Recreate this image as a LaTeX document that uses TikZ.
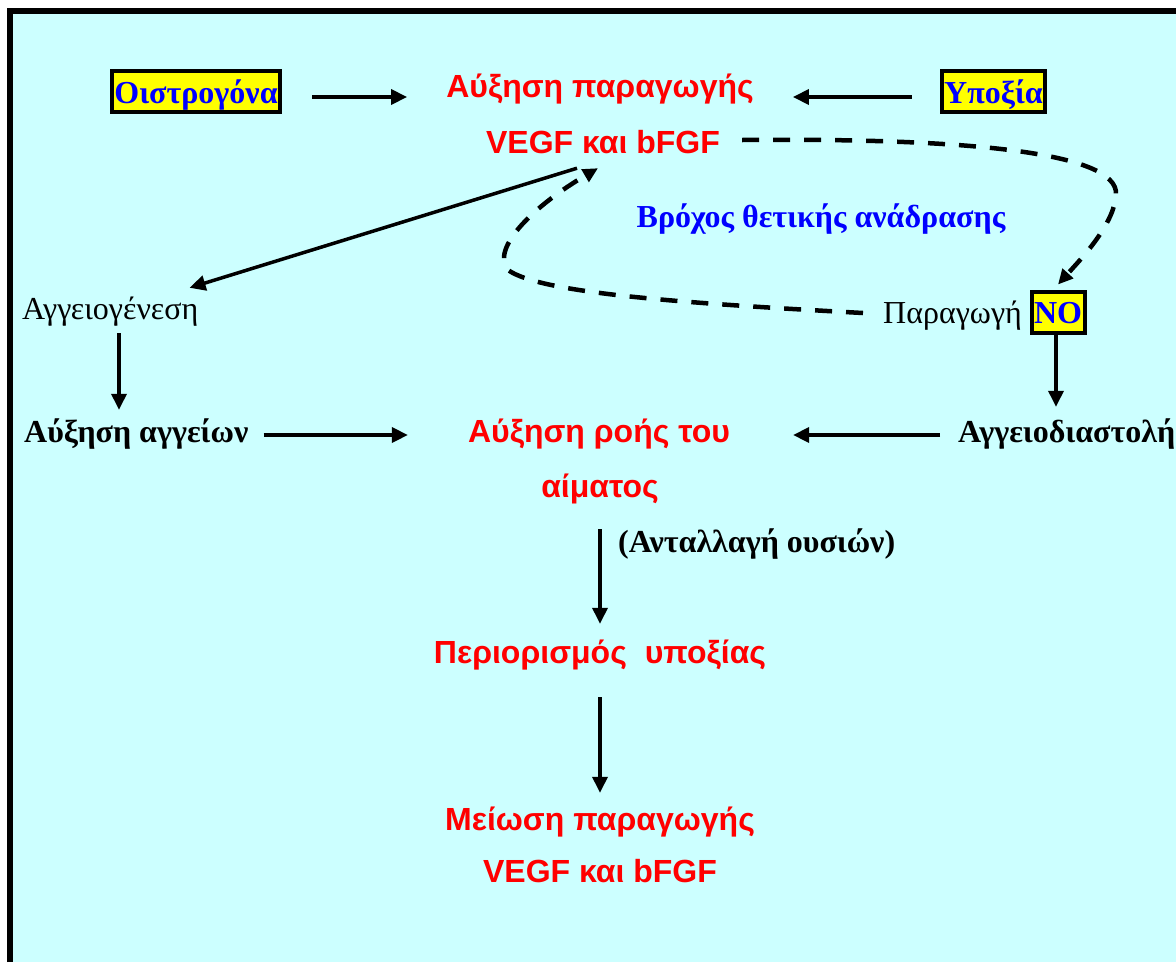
\documentclass[tikz,border=0pt]{standalone}
\usepackage{fontspec}
\setmainfont{Liberation Serif}
\newfontfamily\sansf{Liberation Sans}
\usetikzlibrary{arrows.meta,calc}
\definecolor{bgcyan}{HTML}{CCFFFF}
\definecolor{boxyellow}{HTML}{FFFF00}
\begin{document}
\begin{tikzpicture}[x=1pt,y=-1pt,
  txt/.style={inner sep=0pt, text height=24pt, text depth=7pt, anchor=base},
  redtxt/.style={txt, text=red, font=\sansf\bfseries\fontsize{32}{38}\selectfont},
  boldtxt/.style={txt, text=black, font=\bfseries\fontsize{32}{38}\selectfont},
  plaintxt/.style={txt, text=black, font=\fontsize{32}{38}\selectfont},
  bluetxt/.style={txt, text=blue, font=\bfseries\fontsize{32}{38}\selectfont},
  yellowbox/.style={draw=black, line width=4pt, fill=boxyellow, text=blue,
    font=\bfseries\fontsize{32}{38}\selectfont, inner xsep=2.5pt, inner ysep=2pt,
    text height=30pt, text depth=7pt},
  arr/.style={line width=3.5pt, -{Triangle[length=16pt,width=15pt]}},
  dasharr/.style={line width=4.5pt, dash pattern=on 17pt off 14pt,
    -{Triangle[length=15pt,width=14pt]}}]

% page and frame
\useasboundingbox (0,0) rectangle (1176,962);
\fill[white] (0,0) rectangle (1176,962);
\fill[bgcyan] (9.7,11) rectangle (1176,962);
\draw[line width=6pt, line join=miter] (9.7,962) -- (9.7,11) -- (1176,11);

% nodes
\node[yellowbox] (oist) at (196,91.5) {Οιστρογόνα};
\node[redtxt] (prod) at (600,97) {Αύξηση παραγωγής};
\node[redtxt] (vegf) at (603,153) {VEGF και bFGF};
\node[yellowbox] (hyp) at (993.5,91.5) {Υποξία};
\node[bluetxt] (loop) at (821,227) {Βρόχος θετικής ανάδρασης};
\node[plaintxt, anchor=base west] (angio) at (22,319) {Αγγειογένεση};
\node[plaintxt, anchor=base west] (prodno) at (883,323) {Παραγωγή};
\node[yellowbox] (no) at (1058,312) {NO};
\node[boldtxt, anchor=base west] (vessels) at (24,442) {Αύξηση αγγείων};
\node[redtxt] (flow) at (599,442) {Αύξηση ροής του};
\node[redtxt] (blood) at (600,497) {αίματος};
\node[boldtxt, anchor=base west] (vaso) at (958,442) {Αγγειοδιαστολή};
\node[boldtxt, anchor=base west] (exch) at (618,552) {(Ανταλλαγή ουσιών)};
\node[redtxt] (limit) at (600,663) {Περιορισμός\hspace{0.56em}υποξίας};
\node[redtxt] (reduce) at (600,830) {Μείωση παραγωγής};
\node[redtxt] (vegf2) at (600,882) {VEGF και bFGF};

% solid connectors
\draw[arr] ([xshift=30pt,yshift=-5.5pt]oist.east) -- ([xshift=-39pt,yshift=-8.5pt]prod.west);
\draw[arr] ([xshift=-28pt,yshift=-5.5pt]hyp.west) -- ([xshift=39pt,yshift=-8.5pt]prod.east);
\draw[arr] ([xshift=-26pt,yshift=-8pt]vegf.south) -- ([xshift=-9pt,yshift=7pt]angio.north east);
\draw[arr] ([xshift=97pt,yshift=-7pt]angio.south west) -- ([xshift=95pt,yshift=8pt]vessels.north west);
\draw[arr] ([xshift=15pt,yshift=-1.5pt]vessels.east) -- ([xshift=-60pt,yshift=-1.5pt]flow.west);
\draw[arr] ([xshift=-18pt,yshift=-1.5pt]vaso.west) -- ([xshift=63pt,yshift=-1.5pt]flow.east);
\draw[arr] ([xshift=-2pt]no.south) -- ($(no.south |- vaso.north)+(-2,-11)$);
\draw[arr] ([yshift=-25pt]blood.south) -- ([yshift=15pt]limit.north);
\draw[arr] ([yshift=-27pt]limit.south) -- ([yshift=13pt]reduce.north);

% positive feedback loop
\draw[dasharr] ([xshift=22pt,yshift=4.5pt]vegf.east)
  .. controls (950,138) and (1120,150) .. (1116,195)
  .. controls (1114,225) and (1080,260) .. ([yshift=5pt]no.north);
\draw[dasharr] ([xshift=-20pt,yshift=1.5pt]prodno.west)
  .. controls (680,303) and (540,293) .. (508,270)
  .. controls (490,248) and (535,205) .. ([xshift=-5pt,yshift=-8pt]vegf.south);
\end{tikzpicture}
\end{document}
